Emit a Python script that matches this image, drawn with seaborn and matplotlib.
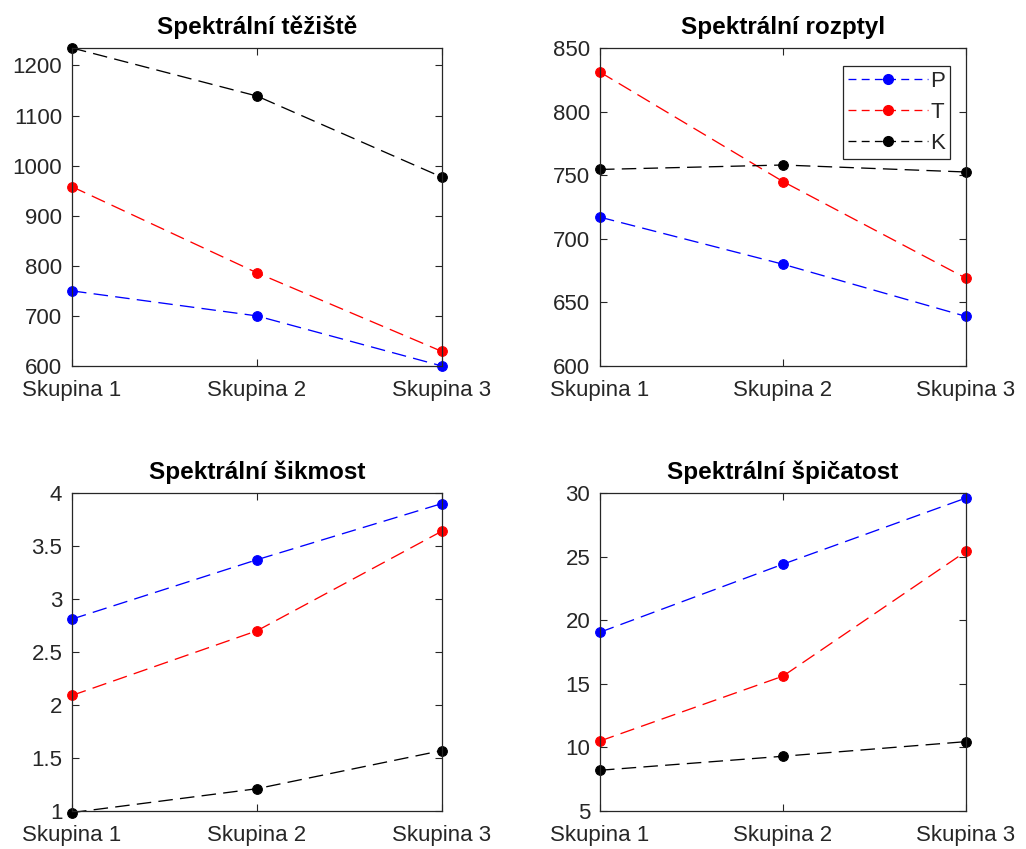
import matplotlib
matplotlib.use("Agg")
import matplotlib.pyplot as plt
import seaborn as sns
import pandas as pd

# Groups on the x axis
groups = ["Skupina 1", "Skupina 2", "Skupina 3"]
series_names = ["P", "T", "K"]
series_colors = {"P": "#0000ff", "T": "#ff0000", "K": "#000000"}

# Spectral centroid
teziste_P = [750, 700, 600]
teziste_T = [958, 786, 629]
teziste_K = [1235, 1139, 977]

# Spectral spread
rozptyl_P = [717, 680, 639]
rozptyl_T = [831, 745, 669]
rozptyl_K = [754.5, 758, 752.5]

# Spectral skewness
sikmost_P = [2.81, 3.37, 3.90]
sikmost_T = [2.09, 2.70, 3.64]
sikmost_K = [0.985, 1.21, 1.57]

# Spectral kurtosis
spicatost_P = [19.05, 24.4, 29.6]
spicatost_T = [10.5, 15.6, 25.4]
spicatost_K = [8.2, 9.3, 10.45]

panels = [
    ("Spektrální těžiště", (teziste_P, teziste_T, teziste_K), (600, 1235),
     [600, 700, 800, 900, 1000, 1100, 1200], ["600", "700", "800", "900", "1000", "1100", "1200"]),
    ("Spektrální rozptyl", (rozptyl_P, rozptyl_T, rozptyl_K), (600, 850),
     [600, 650, 700, 750, 800, 850], ["600", "650", "700", "750", "800", "850"]),
    ("Spektrální šikmost", (sikmost_P, sikmost_T, sikmost_K), (1, 4),
     [1, 1.5, 2, 2.5, 3, 3.5, 4], ["1", "1.5", "2", "2.5", "3", "3.5", "4"]),
    ("Spektrální špičatost", (spicatost_P, spicatost_T, spicatost_K), (5, 30),
     [5, 10, 15, 20, 25, 30], ["5", "10", "15", "20", "25", "30"]),
]

sns.set_theme(style="white")
plt.rcParams["font.family"] = ["Liberation Sans", "DejaVu Sans"]

fig = plt.figure(figsize=(10.26, 8.49), dpi=100)
positions = [
    [0.0702, 0.5689, 0.3606, 0.3746],
    [0.5848, 0.5689, 0.3567, 0.3746],
    [0.0702, 0.0448, 0.3606, 0.3746],
    [0.5848, 0.0448, 0.3567, 0.3746],
]

tick_color = "#262626"
x_pos = [1, 2, 3]
label_size = 16

for i, (title, values, ylim, yticks, ylabels) in enumerate(panels):
    ax = fig.add_axes(positions[i])
    df = pd.DataFrame({
        "pos": x_pos * 3,
        "val": list(values[0]) + list(values[1]) + list(values[2]),
        "serie": [s for s in series_names for _ in x_pos],
    })
    sns.lineplot(data=df, x="pos", y="val", hue="serie", palette=series_colors,
                 marker="o", markersize=7, linewidth=0.95, legend=False, ax=ax,
                 sort=False)
    for line in ax.lines:
        c = line.get_color()
        line.set_linestyle((0, (11, 5.5)))
        line.set_markerfacecolor(c)
        line.set_markeredgecolor(c)
        line.set_clip_on(False)

    ax.set_xlim(1, 3)
    ax.set_ylim(*ylim)
    ax.set_xticks(x_pos)
    ax.set_xticklabels(groups)
    ax.set_yticks(yticks)
    ax.set_yticklabels(ylabels)
    ax.set_xlabel("")
    ax.set_ylabel("")
    ax.tick_params(axis="both", which="both", direction="in", length=5, width=0.8,
                   top=True, right=True, bottom=True, left=True,
                   labelsize=label_size, colors=tick_color)
    ax.tick_params(axis="x", pad=10)
    ax.tick_params(axis="y", pad=7)
    for sp in ax.spines.values():
        sp.set_visible(True)
        sp.set_color("#262626")
        sp.set_linewidth(0.9)
    ax.set_title(title, fontsize=17.5, fontweight="bold", color="black", pad=10)

    if i == 1:
        handles = [plt.Line2D([], [], color=series_colors[s], linestyle=(0, (6, 4)),
                              linewidth=0.95, marker="o", markersize=7,
                              markerfacecolor=series_colors[s],
                              markeredgecolor=series_colors[s]) for s in series_names]
        leg = ax.legend(handles, series_names, loc="upper right",
                        bbox_to_anchor=(0.956, 0.943), fontsize=label_size,
                        handlelength=3.6, handletextpad=0.1, labelspacing=0.45,
                        borderpad=0.22, borderaxespad=0.0, fancybox=False,
                        framealpha=1, edgecolor="#262626")
        leg.get_frame().set_linewidth(0.9)
        for t in leg.get_texts():
            t.set_color(tick_color)

fig.savefig("out.png", dpi=100, facecolor="white")
